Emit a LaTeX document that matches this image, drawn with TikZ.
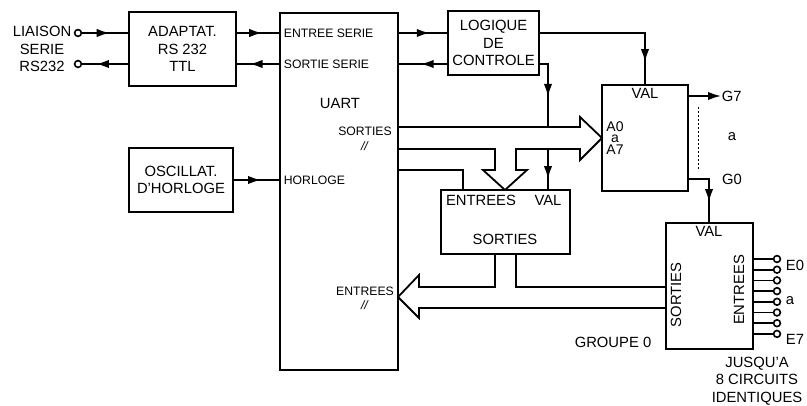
\documentclass[tikz,border=0pt]{standalone}
\usepackage{fontspec}
\setmainfont{Liberation Sans}
\usetikzlibrary{arrows.meta,decorations.markings}
\newcommand\lblbig{\fontsize{7.4}{8.8}\selectfont}
\newcommand\lblsmall{\fontsize{6.1}{7.2}\selectfont}
\tikzset{
  box/.style={draw,line width=0.9pt,inner sep=0pt,align=center,font=\lblbig},
  txt/.style={inner sep=0pt,align=center,font=\lblbig},
  stxt/.style={inner sep=0pt,align=center,font=\lblsmall},
  pin/.style={circle,draw,line width=0.8pt,inner sep=0pt,minimum size=3.4pt},
  flow/.style={postaction={decorate},decoration={markings,
    mark=at position #1 with {\arrow{Latex[length=6.5pt,width=4.2pt]}}}},
  flow/.default=0.6,
  bus/.style={line width=0.9pt,line join=miter},
}

\begin{document}
\begin{tikzpicture}[x=0.5pt,y=-0.5pt,line width=0.9pt,>={Latex[length=6.5pt,width=4.2pt]}]
  \useasboundingbox (0,0) rectangle (807,406);
  % blocs
  \node[box,minimum width=53.5pt,minimum height=37pt] (adapt) at (182.5,49) {ADAPTAT.\\RS 232\\TTL};
  \node[box,minimum width=52pt,minimum height=32pt] (osc) at (181,180) {OSCILLAT.\\D'HORLOGE};
  \node[box,minimum width=59pt,minimum height=178.5pt] (uart) at (339,191.5) {};
  \node[box,minimum width=45.5pt,minimum height=32pt] (logic) at (493.5,43) {LOGIQUE\\DE\\CONTROLE};
  \node[box,minimum width=43pt,minimum height=53pt] (latch) at (645,138) {};
  \node[box,minimum width=64.5pt,minimum height=32pt] (mux) at (505.5,222) {};
  \node[box,minimum width=43.5pt,minimum height=63pt] (grp) at (709.5,286) {};

  % liaison serie
  \node[txt] (rs) at (42,49) {LIAISON\\SERIE\\RS232};
  \node[pin] (rsin) at (78,33) {};
  \node[pin] (rsout) at (78,64) {};

  % textes UART
  \node[stxt,anchor=west] (es) at (283,33) {ENTREE SERIE};
  \node[stxt,anchor=west] (ss) at (283,64) {SORTIE SERIE};
  \node[txt] (uartlbl) at (340,103) {UART};
  \node[stxt] (usort) at (365,139) {SORTIES\\\textit{//}};
  \node[stxt,anchor=west] (hor) at (283,180) {HORLOGE};
  \node[stxt] (uent) at (365,298) {ENTREES\\\textit{//}};

  % textes des autres blocs
  \node[txt] (mentr) at (481,200) {ENTREES};
  \node[txt] (mval) at (548,200) {VAL};
  \node[txt] (msort) at (505,239) {SORTIES};
  \node[txt] (lval) at (645,93) {VAL};
  \node[txt,font=\fontsize{7}{5.8}\selectfont] (ain) at (615,138) {A0\\a\\A7};
  \node[txt] (gval) at (709,231) {VAL};
  \node[txt,rotate=90] (gsort) at (676,295) {SORTIES};
  \node[txt,rotate=90] (gentr) at (739,290) {ENTREES};
  \node[txt,anchor=west] (g7) at (721,96) {G7};
  \node[txt] (ga) at (732,137) {a};
  \node[txt] (g0) at (732,179) {G0};
  \node[txt] (grpn) at (613,342) {GROUPE 0};
  \node[txt] (note) at (757,381) {JUSQU'A\\8 CIRCUITS\\IDENTIQUES};
  \node[txt,anchor=west] (e0lbl) at (785,265) {E0};
  \node[txt,anchor=west] (ealbl) at (785,301) {a};
  \node[txt,anchor=west] (e7lbl) at (785,339) {E7};

  % liaisons
  \draw[flow] (rsin) -- (adapt.west |- rsin);
  \draw[flow=0.7] (adapt.west |- rsout) -- (rsout);
  \draw[flow] (adapt.east |- rsin) -- (uart.west |- rsin);
  \draw[flow=0.7] (uart.west |- rsout) -- (adapt.east |- rsout);
  \draw[flow] (osc.east) -- (uart.west |- osc.east);
  \draw[flow=0.64] (uart.east |- rsin) -- (logic.west |- rsin);
  \draw[flow=0.55] (logic.west |- rsout) -- (uart.east |- rsout);
  \draw[flow=-11pt] (logic.east |- rsin) -| (latch.north);
  \draw[postaction={decorate},decoration={markings,
      mark=at position 20.5pt with {\arrow{Latex[length=6.5pt,width=4.2pt]}},
      mark=at position -5pt with {\arrow{Latex[length=6.5pt,width=4.2pt]}}}]
    (logic.east |- rsout) -| (mval.north |- mux.north);
  \coordinate (uq) at (463,170);
  \draw (uart.east |- uq) -| (uq |- mux.north);
  \draw[->] (latch.east |- g7) -- (g7.west);
  \draw[flow=-10pt] (latch.east |- g0) -| (gval |- grp.north);
  \draw[line width=0.45pt,dash pattern=on 1pt off 1pt] (698,107) -- (698,170);

  % bus
  \draw[bus,fill=white] (398,127) -- (580,127) -- (580,117) -- (602,138) -- (580,160)
    -- (580,149) -- (516,149) -- (516,170) -- (527,170) -- (505,190) -- (483,170)
    -- (495,170) -- (495,149) -- (398,149) -- cycle;
  \draw[bus] (495,254) -- (495,287) -- (419,287) -- (419,275) -- (398,297)
    -- (419,318) -- (419,308) -- (666,308);
  \draw[bus] (666,287) -- (516,287) -- (516,254);

  % entrees E0 a E7
  \foreach \i in {0,...,7} {
    \node[pin] (e\i) at (777,259+\i*10.7) {};
    \draw (grp.east |- e\i) -- (e\i);
  }
\end{tikzpicture}
\end{document}
